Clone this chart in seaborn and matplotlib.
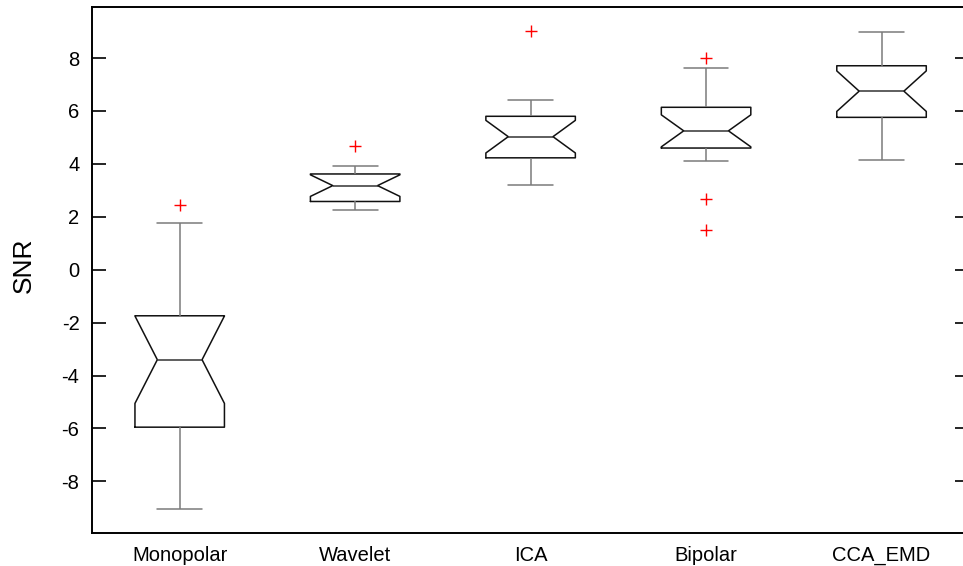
import numpy as np
import pandas as pd
import seaborn as sns
import matplotlib.pyplot as plt


METHODS = ["Monopolar", "Wavelet", "ICA", "Bipolar", "CCA_EMD"]

# SNR values per method (16 trials each)
monopolar = [-9.03, -8.10, -7.00, -5.95, -5.95, -5.20, -4.30, -3.40,
             -3.40, -2.80, -2.20, -1.74, -1.74, -0.50, 1.78, 2.45]
wavelet = [2.26, 2.40, 2.50, 2.58, 2.58, 2.80, 3.00, 3.18,
           3.18, 3.35, 3.50, 3.62, 3.62, 3.75, 3.92, 4.66]
ica = [3.20, 3.70, 4.00, 4.23, 4.23, 4.50, 4.80, 5.03,
       5.03, 5.30, 5.55, 5.80, 5.80, 6.10, 6.43, 9.03]
bipolar = [1.51, 2.67, 4.10, 4.60, 4.60, 4.85, 5.05, 5.25,
           5.25, 5.50, 5.80, 6.14, 6.14, 6.90, 7.63, 7.99]
cca_emd = [4.16, 4.80, 5.30, 5.76, 5.76, 6.10, 6.45, 6.75,
           6.75, 7.05, 7.40, 7.71, 7.71, 8.20, 8.60, 8.99]

Y_TICKS = [-8, -6, -4, -2, 0, 2, 4, 6, 8]


def main():
    groups = [monopolar, wavelet, ica, bipolar, cca_emd]
    df = pd.DataFrame({
        "Method": np.repeat(METHODS, [len(g) for g in groups]),
        "SNR": np.concatenate(groups),
    })

    sns.set_style("ticks")
    plt.rcParams["font.family"] = ["Liberation Sans", "DejaVu Sans"]
    plt.rcParams["axes.unicode_minus"] = False
    plt.rcParams["text.color"] = "black"
    plt.rcParams["axes.labelcolor"] = "black"
    plt.rcParams["xtick.color"] = "black"
    plt.rcParams["ytick.color"] = "black"

    fig = plt.figure(figsize=(9.63, 5.66), dpi=100)
    ax = fig.add_axes([0.0955, 0.0583, 0.911, 0.9293])

    sns.boxplot(data=df, x="Method", y="SNR", order=METHODS, ax=ax,
                notch=True, whis=0.98, width=0.51, fill=False,
                color="black", linewidth=1.0,
                boxprops=dict(color="#111111", linewidth=1.1),
                medianprops=dict(color="#333333", linewidth=1.1),
                whiskerprops=dict(color="#7a7a7a", linewidth=1.1),
                capprops=dict(color="#7a7a7a", linewidth=1.1),
                flierprops=dict(marker="+", markeredgecolor="red",
                                markerfacecolor="red", markersize=8.5,
                                markeredgewidth=1.0))

    ax.set_xlim(-0.5, 4.5)
    ax.set_ylim(-9.95, 9.93)
    ax.set_yticks(Y_TICKS)
    ax.set_yticklabels([str(t) for t in Y_TICKS])
    ax.set_xlabel("")
    ax.set_ylabel("SNR", fontsize=19)
    ax.yaxis.set_label_coords(-0.064, 0.51)

    for side in ["top", "right", "left", "bottom"]:
        ax.spines[side].set_visible(True)
        ax.spines[side].set_linewidth(1.4)
        ax.spines[side].set_color("black")
    ax.tick_params(axis="y", which="major", direction="in", length=10,
                   width=1.2, left=True, right=True, labelleft=True,
                   labelsize=14.5, pad=9)
    ax.tick_params(axis="x", length=0, labelsize=14.5, pad=9)
    for t in ax.yaxis.get_major_ticks():
        t.tick1line.set_visible(True)
        t.tick2line.set_visible(True)

    plt.savefig("out.png", dpi=100)
    plt.close()


if __name__ == "__main__":
    main()
